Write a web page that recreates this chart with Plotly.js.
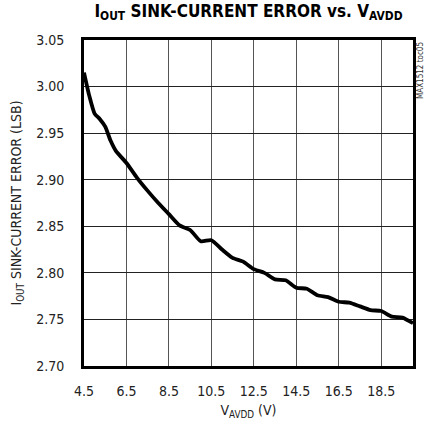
<!DOCTYPE html>
<html>
<head>
<meta charset="utf-8">
<script src="https://cdn.plot.ly/plotly-3.0.1.min.js"></script>
<style>html,body{margin:0;padding:0;background:#fff;}#chart{width:425px;height:429px;}</style>
</head>
<body>
<div id="chart"></div>
<script>
var vavdd = [4.5, 4.75, 5.0, 5.25, 5.5, 5.75, 6.0, 6.5, 7.0, 7.5, 8.0, 8.5, 9.0, 9.5, 10.0, 10.5, 11.0, 11.5, 12.0, 12.5, 13.0, 13.5, 14.0, 14.5, 15.0, 15.5, 16.0, 16.5, 17.0, 17.5, 18.0, 18.5, 19.0, 19.5, 20.0];
var sinkError = [3.015, 2.990, 2.971, 2.965, 2.957, 2.942, 2.931, 2.918, 2.902, 2.888, 2.875, 2.863, 2.851, 2.846, 2.834, 2.835, 2.825, 2.816, 2.812, 2.804, 2.800, 2.793, 2.792, 2.784, 2.783, 2.776, 2.774, 2.769, 2.768, 2.764, 2.760, 2.759, 2.753, 2.752, 2.746];
var xTicks = [4.5, 6.5, 8.5, 10.5, 12.5, 14.5, 16.5, 18.5];
var xTickLabels = ["4.5", "6.5", "8.5", "10.5", "12.5", "14.5", "16.5", "18.5"];
var yTicks = [2.70, 2.75, 2.80, 2.85, 2.90, 2.95, 3.00, 3.05];
var yTickLabels = ["2.70", "2.75", "2.80", "2.85", "2.90", "2.95", "3.00", "3.05"];

var FONT = '"DejaVu Sans Condensed", "Liberation Sans Narrow", "Arial Narrow", "Liberation Sans", Arial, sans-serif';

var trace = {
  x: vavdd, y: sinkError, type: 'scatter', mode: 'lines',
  line: {color: '#000', width: 3.8, shape: 'spline', smoothing: 0.6},
  hoverinfo: 'skip', showlegend: false
};

var layout = {
  width: 425, height: 429,
  margin: {l: 84, r: 12, t: 40, b: 63},
  paper_bgcolor: '#fff', plot_bgcolor: '#fff',
  font: {family: FONT, size: 14, color: '#222'},
  title: {
    text: '<b>I<sub>OUT</sub> SINK-CURRENT ERROR vs. V<sub>AVDD</sub></b>',
    font: {family: FONT, size: 17, color: '#000'},
    x: 0.5, xref: 'paper', y: 0.975, yref: 'container', yanchor: 'middle'
  },
  xaxis: {
    range: [4.5, 20.0], tickmode: 'array', tickvals: xTicks, ticktext: xTickLabels,
    showgrid: true, gridcolor: '#555', gridwidth: 1,
    showline: true, linecolor: '#000', linewidth: 3, mirror: true,
    ticks: '', ticklabelstandoff: 10, zeroline: false,
    tickfont: {family: FONT, size: 14, color: '#222'},
    title: {text: 'V<sub>AVDD</sub> (V)', font: {family: FONT, size: 14, color: '#222'}, standoff: 8}
  },
  yaxis: {
    range: [2.70, 3.05], tickmode: 'array', tickvals: yTicks, ticktext: yTickLabels,
    showgrid: true, gridcolor: '#222', gridwidth: 1,
    showline: true, linecolor: '#000', linewidth: 3, mirror: true,
    ticks: '', ticklabelstandoff: 14, zeroline: false,
    tickfont: {family: FONT, size: 14, color: '#222'},
    title: {text: 'I<sub>OUT</sub> SINK-CURRENT ERROR (LSB)', font: {family: FONT, size: 14, color: '#222'}, standoff: 12}
  },
  annotations: [{
    text: 'MAX1512 toc05', xref: 'paper', yref: 'paper', x: 1.0, y: 1.0,
    xanchor: 'left', yanchor: 'top', xshift: 1, textangle: -90, showarrow: false,
    font: {family: FONT, size: 8, color: '#333'}
  }]
};

Plotly.newPlot('chart', [trace], layout, {displayModeBar: false, staticPlot: true});
</script>
</body>
</html>
